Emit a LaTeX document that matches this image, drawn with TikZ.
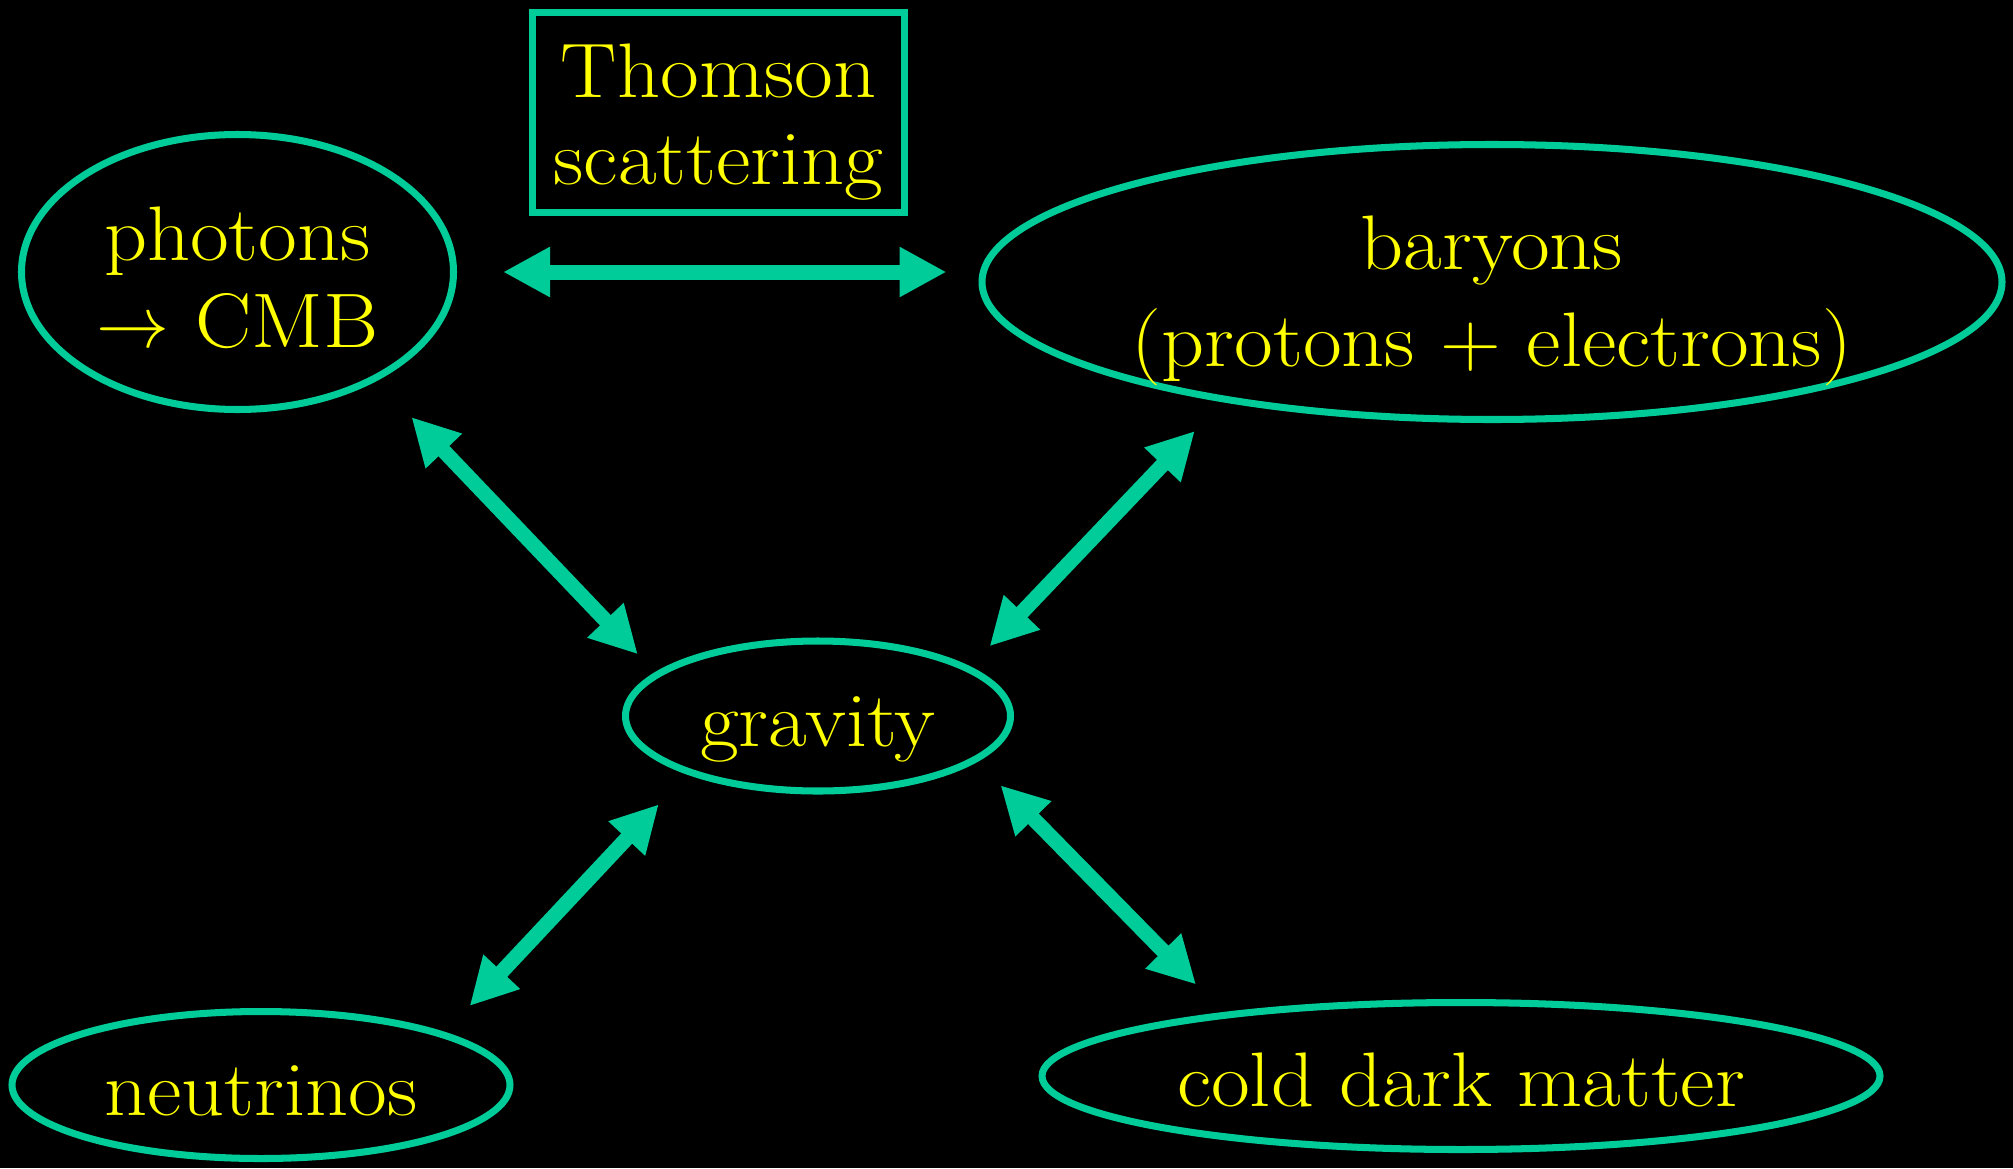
\documentclass[tikz,border=0pt]{standalone}
\usepackage{fontspec}
\setmainfont{Latin Modern Roman}[FakeStretch=1.09]
\usepackage{tikz}
\usetikzlibrary{arrows.meta,shapes.geometric}
\definecolor{sea}{RGB}{0,204,153}
\definecolor{lemon}{RGB}{255,255,0}
\tikzset{
    blob/.style={ellipse,draw=sea,line width=2pt,text=lemon,inner sep=0pt,align=center,text height=22pt,text depth=4.4pt},
    twoline/.style={text height=47.6pt,text depth=4.4pt},
    box/.style={rectangle,draw=sea,line width=2.2pt,text=lemon,inner sep=0pt,align=center,minimum width=37.2mm,minimum height=20mm,text height=45.6pt,text depth=4.4pt},
    arr/.style={{Triangle[length=4.7mm,width=4.7mm]}-{Triangle[length=4.7mm,width=4.7mm]},line width=1.5mm,draw=sea},
}

\begin{document}
\begin{tikzpicture}[every node/.style={font=\fontsize{22}{25}\selectfont}]
\fill[black] (0,0) rectangle (20.13,11.68);
\node[blob,twoline,minimum width=43.2mm,minimum height=27.5mm] (photons) at (2.375,8.96) {photons\\$\rightarrow$ CMB};
\node[box] (thomson) at (7.185,10.555) {Thomson\\scattering};
\node[blob,twoline,text height=51pt,text depth=2.9pt,minimum width=102mm,minimum height=27.5mm] (baryons) at (14.92,8.86) {baryons\\[2.7pt](protons + electrons)};
\node[blob,minimum width=38.5mm,minimum height=15mm] (gravity) at (8.18,4.52) {gravity};
\node[blob,minimum width=49.8mm,minimum height=14.7mm] (neutrinos) at (2.61,0.83) {neutrinos};
\node[blob,minimum width=83.8mm,minimum height=14.7mm] (cdm) at (14.61,0.92) {cold dark matter};

\draw[arr,shorten <=4.6mm,shorten >=3.2mm] (photons.east) -- (photons.east -| baryons.west);
\draw[arr,shorten <=5mm,shorten >=2.5mm] (photons.-38) -- (gravity.165);
\draw[arr,shorten <=4mm,shorten >=2.8mm] (baryons.-156) -- (gravity.18);
\draw[arr,shorten <=4.1mm,shorten >=3.6mm] (gravity.-156) -- (neutrinos.16);
\draw[arr,shorten <=3.3mm,shorten >=3.9mm] (gravity.-16) -- (cdm.165);
\end{tikzpicture}
\end{document}
